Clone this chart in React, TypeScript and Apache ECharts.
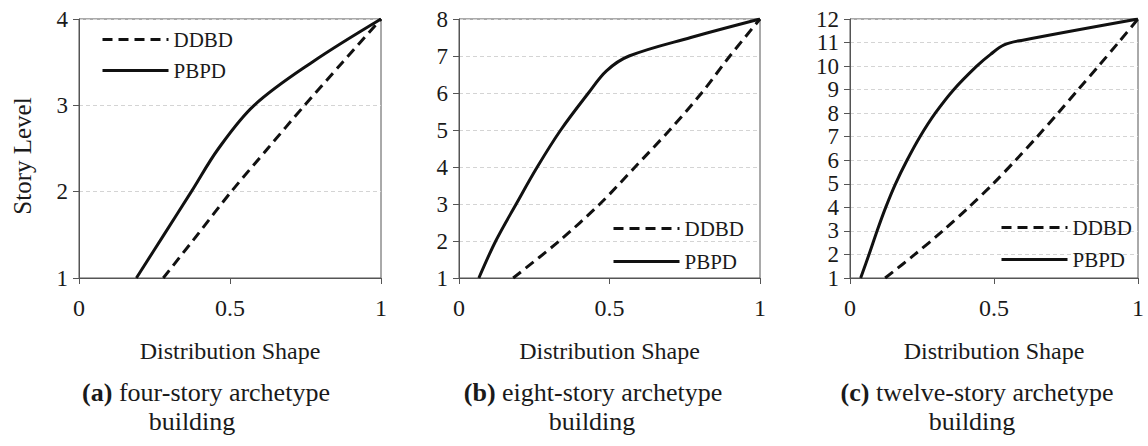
import React, { useEffect, useRef } from "react";
import * as echarts from "echarts";

const FONT = "Liberation Serif";
const INK = "#1a1a1a";
const AXIS = "#555555";

// (a) four-story archetype: story level vs. distribution shape
const ddbdLevelsA = [1, 1.5, 2, 2.5, 3, 3.5, 4];
const ddbdShapeA = [0.279, 0.392, 0.504, 0.625, 0.747, 0.873, 1.0];
const pbpdLevelsA = [1, 1.5, 2, 2.5, 3, 3.5, 4];
const pbpdShapeA = [0.19, 0.281, 0.372, 0.462, 0.58, 0.772, 1.0];

// (b) eight-story archetype
const ddbdLevelsB = [1, 2, 3, 4, 5, 6, 7, 8];
const ddbdShapeB = [0.18, 0.333, 0.468, 0.585, 0.7, 0.806, 0.9, 1.0];
const pbpdLevelsB = [1, 2, 3, 4, 5, 6, 6.6, 7, 7.5, 8];
const pbpdShapeB = [0.066, 0.122, 0.19, 0.26, 0.338, 0.43, 0.49, 0.565, 0.77, 1.0];

// (c) twelve-story archetype
const ddbdLevelsC = [1, 2, 3, 4, 5, 6, 7, 8, 9, 10, 11, 12];
const ddbdShapeC = [0.122, 0.225, 0.322, 0.412, 0.497, 0.575, 0.65, 0.722, 0.792, 0.863, 0.932, 1.0];
const pbpdLevelsC = [1, 2, 3, 4, 5, 6, 7, 8, 9, 10, 10.5, 10.9, 11.1, 12];
const pbpdShapeC = [0.037, 0.066, 0.094, 0.124, 0.158, 0.198, 0.243, 0.296, 0.36, 0.44, 0.488, 0.535, 0.6, 1.0];

const storyMax = [4, 8, 12];
const xTicks = { min: 0, max: 1, interval: 0.5 };
const xTitle = "Distribution Shape";
const yTitle = "Story Level";
const captionTags = ["(a)", "(b)", "(c)"];
const captionText = [" four-story archetype", " eight-story archetype", " twelve-story archetype"];
const captionLine2 = "building";
const seriesNames = ["DDBD", "PBPD"];

const pairs = (xs: number[], ys: number[]) => xs.map((x, i) => [x, ys[i]]);

const panels = [
  { ddbd: pairs(ddbdShapeA, ddbdLevelsA), pbpd: pairs(pbpdShapeA, pbpdLevelsA) },
  { ddbd: pairs(ddbdShapeB, ddbdLevelsB), pbpd: pairs(pbpdShapeB, pbpdLevelsB) },
  { ddbd: pairs(ddbdShapeC, ddbdLevelsC), pbpd: pairs(pbpdShapeC, pbpdLevelsC) },
];

// layout of the three plot boxes
const boxes = [
  { left: 79, top: 19, width: 302, height: 259 },
  { left: 459, top: 19, width: 301, height: 259 },
  { left: 850, top: 19, width: 288, height: 259 },
];
const legendPos = [
  { left: 101, top: 29, itemGap: 10 },
  { left: 612, top: 218, itemGap: 12 },
  { left: 1000, top: 217, itemGap: 11 },
];
const captionPos = [
  { x1: 206, x2: 192 },
  { x1: 593, x2: 592 },
  { x1: 977, x2: 972 },
];

export default function App() {
  const ref = useRef<HTMLDivElement>(null);

  useEffect(() => {
    if (!ref.current) return;
    const chart = echarts.init(ref.current, undefined, { renderer: "svg" });

    const grid = boxes.map((b) => ({
      ...b,
      show: true,
      borderColor: AXIS,
      borderWidth: 1,
      containLabel: false,
    }));

    const xAxis = boxes.map((_, i) => ({
      type: "value",
      gridIndex: i,
      ...xTicks,
      axisLine: { show: true, lineStyle: { color: AXIS, width: 1 } },
      axisTick: { show: true, length: 6, inside: false, lineStyle: { color: AXIS } },
      axisLabel: { fontFamily: FONT, fontSize: 24, color: INK, margin: 18 },
      splitLine: { show: false },
      name: xTitle,
      nameLocation: "middle",
      nameGap: 61,
      nameTextStyle: { fontFamily: FONT, fontSize: 24, color: INK },
    }));

    const yAxis = boxes.map((_, i) => ({
      type: "value",
      gridIndex: i,
      min: 1,
      max: storyMax[i],
      interval: 1,
      axisLine: { show: true, lineStyle: { color: AXIS, width: 1 } },
      axisTick: { show: true, length: 6, inside: false, lineStyle: { color: AXIS } },
      axisLabel: { fontFamily: FONT, fontSize: 23, color: INK, margin: 11 },
      splitLine: { show: true, lineStyle: { color: "#d4d4d4", width: 1, type: [4, 3] } },
    }));

    const series: any[] = [];
    panels.forEach((p, i) => {
      series.push({
        type: "line",
        name: seriesNames[0],
        xAxisIndex: i,
        yAxisIndex: i,
        data: p.ddbd,
        smooth: 0.3,
        symbol: "none",
        lineStyle: { color: "#111", width: 3, type: [10, 6] },
        itemStyle: { color: "#111" },
      });
      series.push({
        type: "line",
        name: seriesNames[1],
        xAxisIndex: i,
        yAxisIndex: i,
        data: p.pbpd,
        smooth: 0.35,
        symbol: "none",
        lineStyle: { color: "#111", width: 3 },
        itemStyle: { color: "#111" },
      });
    });

    const legend = legendPos.map((l) => ({
      show: true,
      orient: "vertical",
      left: l.left,
      top: l.top,
      itemGap: l.itemGap,
      itemWidth: 66,
      itemHeight: 14,
      selectedMode: false,
      padding: 0,
      data: seriesNames,
      itemStyle: { opacity: 0, borderWidth: 0 },
      lineStyle: { width: 3 },
      textStyle: { fontFamily: FONT, fontSize: 21, color: INK, lineHeight: 21 },
    }));

    const graphic: any[] = [
      {
        type: "text",
        x: 22,
        y: 156,
        rotation: Math.PI / 2,
        style: {
          text: yTitle,
          fontFamily: FONT,
          fontSize: 25,
          fill: INK,
          align: "center",
          verticalAlign: "middle",
        },
      },
    ];
    captionPos.forEach((c, i) => {
      graphic.push({
        type: "text",
        x: c.x1,
        y: 392,
        style: {
          text: `{b|${captionTags[i]}}{n|${captionText[i]}}`,
          align: "center",
          verticalAlign: "middle",
          fill: INK,
          rich: {
            b: { fontFamily: FONT, fontSize: 26, fontWeight: "bold", fill: INK },
            n: { fontFamily: FONT, fontSize: 26, fill: INK },
          },
        },
      });
      graphic.push({
        type: "text",
        x: c.x2,
        y: 421,
        style: {
          text: captionLine2,
          fontFamily: FONT,
          fontSize: 26,
          fill: INK,
          align: "center",
          verticalAlign: "middle",
        },
      });
    });

    chart.setOption({
      animation: false,
      backgroundColor: "#ffffff",
      textStyle: { fontFamily: FONT },
      grid,
      xAxis,
      yAxis,
      series,
      legend,
      graphic,
    });

    return () => chart.dispose();
  }, []);

  return (
    <div
      ref={ref}
      style={{ position: "absolute", left: 0, top: 0, width: 1148, height: 446 }}
    />
  );
}
